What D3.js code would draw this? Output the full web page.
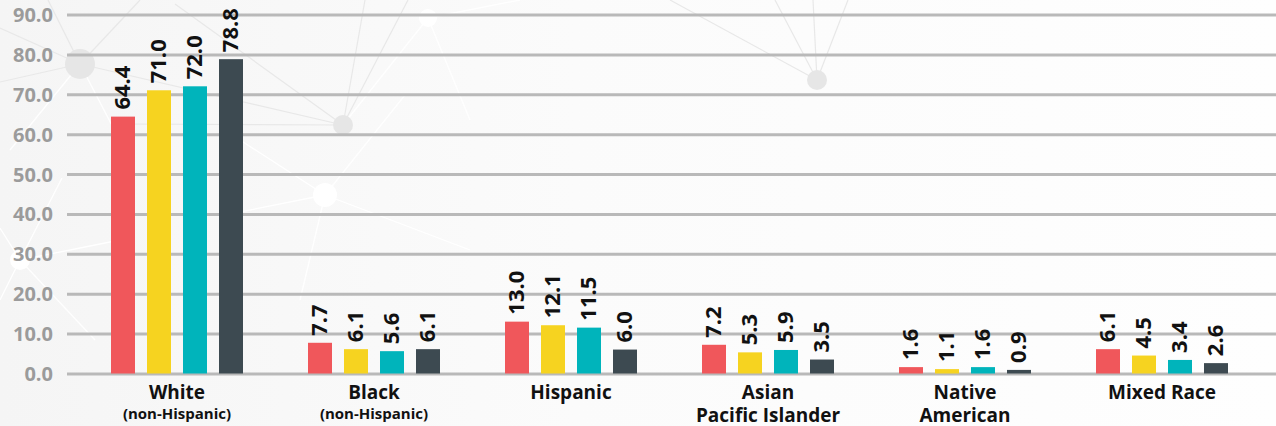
<!DOCTYPE html>
<html>
<head>
<meta charset="utf-8">
<script src="https://cdn.jsdelivr.net/npm/d3@7"></script>
<style>
  html, body { margin: 0; padding: 0; background: #ffffff; }
  svg { display: block; font-family: "Open Sans", "Noto Sans", sans-serif; }
</style>
</head>
<body>
<svg id="chart" width="1276" height="426"></svg>
<script>
// Category labels (main line and optional second line)
const categories = ["White", "Black", "Hispanic", "Asian", "Native", "Mixed Race"];
const subLabels = ["(non-Hispanic)", "(non-Hispanic)", "", "", "", ""];
const secondLines = ["", "", "", "Pacific Islander", "American", ""];

// Four series per category
const seriesKeys = ["s1", "s2", "s3", "s4"];
const seriesColors = ["#f0575b", "#f6d320", "#00b4bb", "#3d4a51"];
const s1 = [64.4, 7.7, 13.0, 7.2, 1.6, 6.1];
const s2 = [71.0, 6.1, 12.1, 5.3, 1.1, 4.5];
const s3 = [72.0, 5.6, 11.5, 5.9, 1.6, 3.4];
const s4 = [78.8, 6.1, 6.0, 3.5, 0.9, 2.6];
const seriesValues = [s1, s2, s3, s4];

// Y axis ticks
const yTicks = [0, 10, 20, 30, 40, 50, 60, 70, 80, 90];

const W = 1276, H = 426;
const svg = d3.select("#chart");

// ---- soft background with a faint network pattern ----
const defs = svg.append("defs");
const grad = defs.append("linearGradient").attr("id", "bg").attr("x1", "0").attr("x2", "1").attr("y1", "0").attr("y2", "0");
grad.append("stop").attr("offset", "0").attr("stop-color", "#f5f5f5");
grad.append("stop").attr("offset", "0.45").attr("stop-color", "#fbfbfb");
grad.append("stop").attr("offset", "1").attr("stop-color", "#fefefe");
svg.append("rect").attr("width", W).attr("height", H).attr("fill", "url(#bg)");

const deco = svg.append("g");
const greyLinks = [
  [80, 64, 0, 28], [80, 64, 0, 82], [80, 64, 48, 0], [80, 64, 140, 0], [80, 64, 343, 125],
  [343, 125, 175, 4], [343, 125, 120, 124], [343, 125, 365, 0], [343, 125, 408, 0],
  [817, 80, 670, 0], [817, 80, 775, 0], [817, 80, 813, 0], [817, 80, 848, 0]
];
const whiteLinks = [
  [325, 195, 240, 212], [325, 195, 405, 95], [325, 195, 470, 250], [325, 195, 240, 140],
  [325, 195, 300, 300],
  [20, 260, 0, 228], [20, 260, 0, 300], [20, 260, 62, 178], [20, 260, 130, 238], [20, 260, 95, 340],
  [80, 64, 10, 150], [80, 64, 130, 160],
  [428, 18, 343, 125], [428, 18, 520, 0], [428, 18, 470, 120]
];
deco.selectAll("line.g").data(greyLinks).join("line")
  .attr("x1", d => d[0]).attr("y1", d => d[1]).attr("x2", d => d[2]).attr("y2", d => d[3])
  .attr("stroke", "#e8e8e8").attr("stroke-width", 1.2);
deco.selectAll("line.w").data(whiteLinks).join("line")
  .attr("x1", d => d[0]).attr("y1", d => d[1]).attr("x2", d => d[2]).attr("y2", d => d[3])
  .attr("stroke", "#ffffff").attr("stroke-width", 1.3);
const greyNodes = [[80, 64, 15], [343, 125, 10], [817, 80, 10]];
const whiteNodes = [[325, 195, 12], [20, 260, 10], [428, 18, 9]];
deco.selectAll("circle.g").data(greyNodes).join("circle")
  .attr("cx", d => d[0]).attr("cy", d => d[1]).attr("r", d => d[2]).attr("fill", "#e6e6e6");
deco.selectAll("circle.w").data(whiteNodes).join("circle")
  .attr("cx", d => d[0]).attr("cy", d => d[1]).attr("r", d => d[2]).attr("fill", "#ffffff");

// ---- scales ----
const y = d3.scaleLinear().domain([0, 90]).range([373.5, 14.5]);
const x = d3.scaleBand().domain(categories).range([78.5, 1260.5]).padding(0);
const bw = x.bandwidth();
const xInner = d3.scaleBand().domain(seriesKeys)
  .range([bw / 2 - 72, bw / 2 + 72]).paddingInner(1 / 3).paddingOuter(1 / 6);

// ---- grid + y axis ----
const axisX = 67;
const yAxis = d3.axisLeft(y).tickValues(yTicks).tickFormat(d3.format(".1f"))
  .tickSize(-(W - axisX)).tickPadding(14);
const ga = svg.append("g").attr("transform", `translate(${axisX},0)`).call(yAxis);
ga.select(".domain").remove();
ga.selectAll(".tick line").attr("stroke", "#b9b9b9").attr("stroke-width", 3);
ga.selectAll(".tick text")
  .attr("fill", "#9b9b9b").attr("font-size", 20).attr("font-weight", 700)
  .attr("font-family", "'Open Sans', sans-serif").attr("dy", "0.35em");

// ---- bars ----
const rows = categories.map((c, i) => ({
  cat: c,
  vals: seriesKeys.map((k, j) => ({ key: k, value: seriesValues[j][i], color: seriesColors[j] }))
}));

const groups = svg.append("g").selectAll("g").data(rows).join("g")
  .attr("transform", d => `translate(${x(d.cat)},0)`);

groups.selectAll("rect").data(d => d.vals).join("rect")
  .attr("x", d => xInner(d.key))
  .attr("width", xInner.bandwidth())
  .attr("y", d => y(d.value))
  .attr("height", d => y(0) - y(d.value))
  .attr("fill", d => d.color);

groups.selectAll("text.val").data(d => d.vals).join("text")
  .attr("class", "val")
  .attr("transform", d => `translate(${xInner(d.key) + xInner.bandwidth() / 2 - 1},${y(d.value) - 7}) rotate(-90)`)
  .attr("dy", "0.36em")
  .attr("text-anchor", "start")
  .attr("font-size", 22).attr("font-weight", 700).attr("fill", "#111")
  .text(d => d3.format(".1f")(d.value));

// ---- category labels ----
const labels = svg.append("g").selectAll("g").data(categories).join("g")
  .attr("transform", d => `translate(${x(d) + bw / 2},0)`)
  .attr("text-anchor", "middle").attr("fill", "#111").attr("font-weight", 700);
labels.append("text").attr("y", 399).attr("font-size", 19).text(d => d);
labels.filter((d, i) => subLabels[i]).append("text").attr("y", 419).attr("font-size", 15)
  .text(d => subLabels[categories.indexOf(d)]);
labels.filter((d, i) => secondLines[i]).append("text").attr("y", 422).attr("font-size", 19)
  .text(d => secondLines[categories.indexOf(d)]);
</script>
</body>
</html>
